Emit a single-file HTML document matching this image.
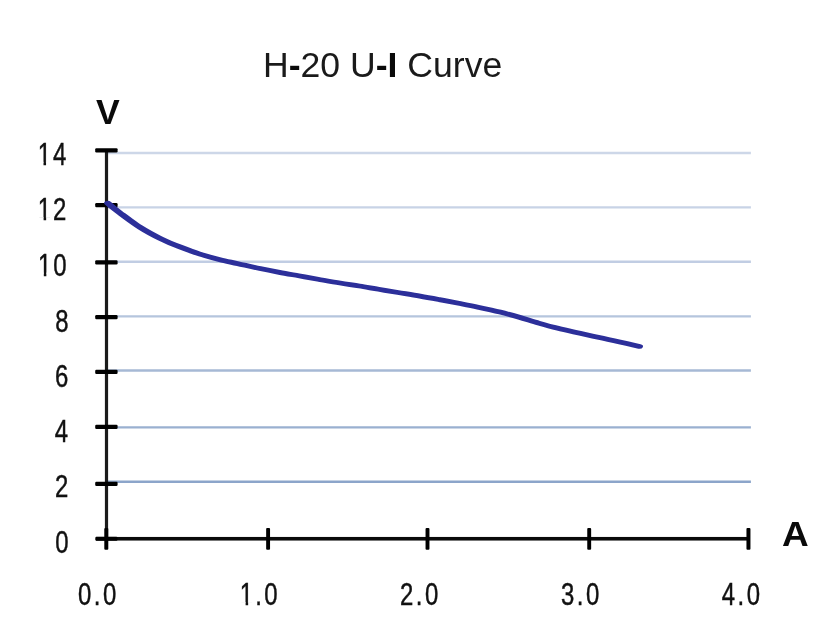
<!DOCTYPE html>
<html lang="en">
<head>
<meta charset="utf-8">
<title>H-20 U-I Curve</title>
<style>
html,body{margin:0;padding:0;background:#fff;}
body{width:828px;height:640px;overflow:hidden;}
svg{display:block;}
text{font-family:"Liberation Sans",sans-serif;}
.lbl{font-size:30.1px;fill:#111;letter-spacing:3.1px;stroke:#111;stroke-width:0.45px;}
.big{font-size:35.6px;fill:#1a1a1a;}
.b{font-weight:bold;fill:#0a0a0a;}
</style>
</head>
<body>
<svg width="828" height="640" viewBox="0 0 828 640">
<rect width="828" height="640" fill="#ffffff"/>
<!-- gridlines -->
<g stroke-width="2.4" fill="none">
<line x1="108" x2="750.9" y1="153" y2="153" stroke="#cdd7e8"/>
<line x1="108" x2="750.9" y1="207.4" y2="207.4" stroke="#c8d3e6"/>
<line x1="108" x2="750.9" y1="261.7" y2="261.7" stroke="#c1cde3"/>
<line x1="108" x2="750.9" y1="316.4" y2="316.4" stroke="#b5c5dd"/>
<line x1="108" x2="750.9" y1="370.5" y2="370.5" stroke="#a6b9d5"/>
<line x1="108" x2="750.9" y1="427.4" y2="427.4" stroke="#9ab0d0"/>
<line x1="108" x2="750.9" y1="481.7" y2="481.7" stroke="#8ca5ca"/>
</g>
<!-- axes -->
<rect x="104.9" y="150" width="3.2" height="390" fill="#1a1a1a"/>
<rect x="96" y="536.95" width="653" height="3.6" fill="#0a0a0a"/>
<!-- y ticks -->
<g fill="#000">
<rect x="95.2" y="148.15" width="22.4" height="4.3" rx="1.2"/>
<rect x="95.2" y="202.95" width="22.4" height="4.3" rx="1.2"/>
<rect x="95.2" y="260.25" width="22.4" height="4.3" rx="1.2"/>
<rect x="95.2" y="314.95" width="22.4" height="4.3" rx="1.2"/>
<rect x="95.2" y="369.75" width="22.4" height="4.3" rx="1.2"/>
<rect x="95.2" y="424.70" width="22.4" height="4.3" rx="1.2"/>
<rect x="95.2" y="481.75" width="22.4" height="4.3" rx="1.2"/>
<!-- x ticks -->
<rect x="95.3" y="536.75" width="22.2" height="4" rx="1.2"/>
<rect x="104.3" y="527.9" width="4" height="21.9" rx="1"/>
<rect x="266.15" y="527.9" width="3.9" height="21.9" rx="1"/>
<rect x="425.55" y="527.9" width="3.9" height="21.9" rx="1"/>
<rect x="587.25" y="527.9" width="3.9" height="21.9" rx="1"/>
<rect x="746.45" y="527.9" width="4" height="21.9" rx="1"/>
</g>
<!-- curve -->
<g transform="scale(1.5,1)"><path id="curve" fill="none" stroke="#2c2f9a" stroke-width="4.76" stroke-linecap="round" stroke-linejoin="round"
 d="M71.87,203.20 C73.11,204.95 77.51,210.22 80.00,213.00 C82.49,215.78 84.44,218.02 86.67,220.40 C88.89,222.78 91.11,225.17 93.33,227.30 C95.56,229.43 97.78,231.35 100.00,233.20 C102.22,235.05 104.44,236.78 106.67,238.40 C108.89,240.02 111.11,241.48 113.33,242.90 C115.56,244.32 117.78,245.62 120.00,246.90 C122.22,248.18 123.89,249.14 126.67,250.60 C129.44,252.06 133.33,254.12 136.67,255.65 C140.00,257.18 143.00,258.41 146.67,259.75 C150.33,261.09 154.22,262.22 158.67,263.70 C163.11,265.18 168.74,267.15 173.33,268.60 C177.92,270.05 181.91,271.20 186.20,272.40 C190.49,273.60 194.77,274.67 199.07,275.80 C203.37,276.93 207.40,278.00 212.00,279.20 C216.60,280.40 222.08,281.87 226.67,283.00 C231.26,284.13 235.24,284.95 239.53,286.00 C243.82,287.05 248.10,288.22 252.40,289.30 C256.70,290.38 260.73,291.37 265.33,292.50 C269.93,293.63 275.41,294.92 280.00,296.10 C284.59,297.28 288.58,298.40 292.87,299.60 C297.16,300.80 301.43,302.03 305.73,303.30 C310.03,304.57 314.07,305.73 318.67,307.20 C323.27,308.67 328.74,310.42 333.33,312.10 C337.92,313.78 341.91,315.47 346.20,317.30 C350.49,319.13 354.77,321.27 359.07,323.10 C363.37,324.93 367.40,326.60 372.00,328.30 C376.60,330.00 382.08,331.75 386.67,333.30 C391.26,334.85 395.24,336.20 399.53,337.60 C403.82,339.00 407.94,340.23 412.40,341.70 C416.86,343.17 423.96,345.62 426.27,346.40"/></g>
<!-- title -->
<text class="big" transform="translate(263,76.9) scale(1,0.99)">H<tspan class="b">-</tspan>20 U<tspan class="b">-I</tspan> Curve</text>
<text class="big b" transform="translate(96,123.8) scale(1,0.98)">V</text>
<text class="big b" transform="translate(782,546.3) scale(1.04,0.98)">A</text>
<!-- y labels -->
<g class="lbl">
<g transform="translate(37.7,164.7) scale(0.795,1.015)"><text style="letter-spacing:2.5px">14</text><rect x="0.4" y="-2.8" width="6.9" height="5" fill="#fff" stroke="none"/><rect x="10.5" y="-2.8" width="6.6" height="5" fill="#fff" stroke="none"/></g>
<g transform="translate(37.8,220) scale(0.795,1.015)"><text style="letter-spacing:2.5px">12</text><rect x="0.4" y="-2.8" width="6.9" height="5" fill="#fff" stroke="none"/><rect x="10.5" y="-2.8" width="6.6" height="5" fill="#fff" stroke="none"/></g>
<g transform="translate(38.0,275.5) scale(0.795,1.015)"><text style="letter-spacing:2.5px">10</text><rect x="0.4" y="-2.8" width="6.9" height="5" fill="#fff" stroke="none"/><rect x="10.5" y="-2.8" width="6.6" height="5" fill="#fff" stroke="none"/></g>
<text transform="translate(55.20,331.6) scale(0.795,1.015)">8</text>
<text transform="translate(55.00,386.8) scale(0.795,1.015)">6</text>
<text transform="translate(54.85,442.4) scale(0.795,1.015)">4</text>
<text transform="translate(55.00,497.2) scale(0.795,1.015)">2</text>
<text transform="translate(55.30,552.7) scale(0.795,1.015)">0</text>
</g>
<!-- x labels -->
<g class="lbl">
<text transform="translate(78.00,604.9) scale(0.795,1.015)">0.0</text>
<g transform="translate(239.8,604.9) scale(0.795,1.015)"><text style="letter-spacing:2.8px">1.0</text><rect x="0.4" y="-2.8" width="6.9" height="5" fill="#fff" stroke="none"/><rect x="10.5" y="-2.8" width="6.6" height="5" fill="#fff" stroke="none"/></g>
<text transform="translate(400.00,604.9) scale(0.795,1.015)">2.0</text>
<text transform="translate(561.10,604.9) scale(0.795,1.015)">3.0</text>
<text transform="translate(721.75,604.9) scale(0.795,1.015)">4.0</text>
</g>
</svg>
</body>
</html>
